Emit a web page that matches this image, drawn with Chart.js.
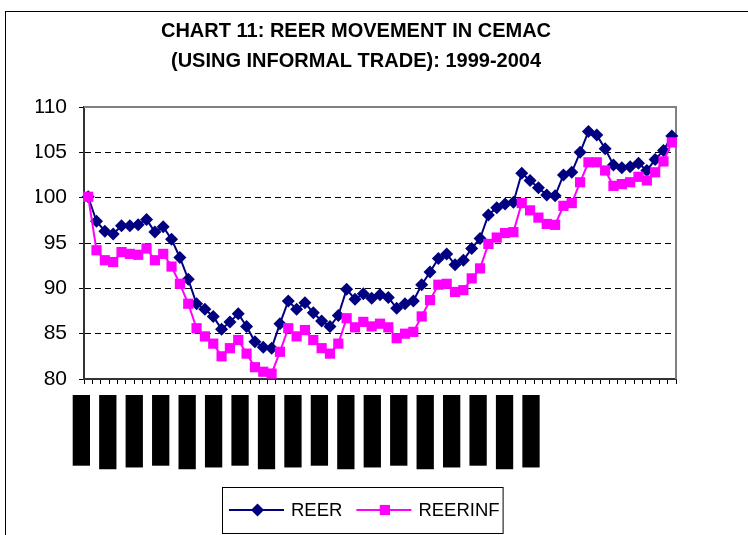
<!DOCTYPE html>
<html>
<head>
<meta charset="utf-8">
<script src="https://cdn.jsdelivr.net/npm/chart.js@4"></script>
<style>
  body { margin: 0; background: #fff; }
</style>
</head>
<body>
<canvas id="grafico" width="748" height="535"></canvas>
<script>
// Dados (mensal, jan/1999 - nov/2004)
const months = ["Jan", "Feb", "Mar", "Apr", "May", "Jun", "Jul", "Aug", "Sep", "Oct", "Nov", "Dec"];
const years = ["99", "00", "01", "02", "03", "04"];
const xLabels = [];
years.forEach((y) => months.forEach((m) => xLabels.push(m + "-" + y)));
xLabels.length = 71;

const reer = [
  100.1, 97.4, 96.3, 96.0, 96.9, 96.9, 97.0, 97.6, 96.2, 96.8, 95.4, 93.4,
  91.0, 88.3, 87.7, 86.9, 85.5, 86.3, 87.2, 85.8, 84.1, 83.5, 83.4, 86.1,
  88.6, 87.7, 88.4, 87.3, 86.4, 85.8, 87.0, 89.9, 88.8, 89.4, 88.9, 89.3,
  89.0, 87.8, 88.3, 88.6, 90.4, 91.8, 93.3, 93.8, 92.6, 93.1, 94.4, 95.5,
  98.1, 98.9, 99.3, 99.5, 102.7, 101.9, 101.1, 100.3, 100.2, 102.5, 102.8, 105.0,
  107.3, 106.9, 105.4, 103.6, 103.3, 103.4, 103.8, 103.0, 104.2, 105.2, 106.8,
];
const reerInf = [
  100.1, 94.2, 93.1, 92.9, 94.0, 93.8, 93.7, 94.4, 93.1, 93.8, 92.4, 90.5,
  88.3, 85.6, 84.7, 83.9, 82.5, 83.4, 84.3, 82.8, 81.3, 80.8, 80.6, 83.0,
  85.6, 84.7, 85.4, 84.3, 83.4, 82.8, 83.9, 86.7, 85.7, 86.3, 85.8, 86.1,
  85.7, 84.5, 85.0, 85.2, 86.9, 88.7, 90.4, 90.5, 89.6, 89.8, 91.1, 92.2,
  94.9, 95.6, 96.1, 96.2, 99.4, 98.6, 97.8, 97.1, 97.0, 99.1, 99.4, 101.7,
  103.9, 103.9, 103.0, 101.3, 101.5, 101.7, 102.3, 101.9, 102.8, 104.0, 106.1,
];
const seriesNames = ["REER", "REERINF"];
const titleLines = ["CHART 11: REER MOVEMENT IN CEMAC", "(USING INFORMAL TRADE): 1999-2004"];

// rótulos do eixo x (um a cada 4 meses) - saem como blocos pretos no original
const blockLabels = xLabels.filter((_, i) => i % 4 === 0);

const FONT = "'Liberation Sans', Arial, sans-serif";

const extras = {
  id: "extras",
  beforeDraw(chart) {
    const ctx = chart.ctx;
    ctx.save();
    ctx.fillStyle = "#fff";
    ctx.fillRect(0, 0, chart.width, chart.height);
    // moldura externa
    ctx.strokeStyle = "#000";
    ctx.lineWidth = 1;
    ctx.strokeRect(5.5, 11.5, chart.width + 10, chart.height + 10);
    ctx.restore();
  },
  beforeDatasetsDraw(chart) {
    const { ctx, chartArea } = chart;
    ctx.save();
    ctx.strokeStyle = "#808080";
    ctx.lineWidth = 2;
    ctx.beginPath();
    ctx.moveTo(chartArea.left, chartArea.top);
    ctx.lineTo(chartArea.right, chartArea.top);
    ctx.lineTo(chartArea.right, chartArea.bottom);
    ctx.stroke();
    ctx.restore();
  },
  afterDraw(chart) {
    const { ctx, chartArea } = chart;
    ctx.save();
    // blocos dos rótulos
    ctx.font = "bold 16px " + FONT;
    ctx.fillStyle = "#000";
    const top = chartArea.bottom + 16;
    blockLabels.forEach((lab, k) => {
      const cx = chartArea.left - 2.7 + k * 26.45;
      const h = ctx.measureText(lab).width + 20;
      ctx.fillRect(cx - 8.6, top, 17.3, h);
      ctx.save();
      ctx.translate(cx, top + 10);
      ctx.rotate(Math.PI / 2);
      ctx.textBaseline = "middle";
      ctx.fillText(lab, 0, 0);
      ctx.restore();
    });

    // legenda
    const ds = chart.data.datasets;
    ctx.font = "18.5px " + FONT;
    ctx.textBaseline = "middle";
    const lx = 222, ly = 487, lh = 46;
    const cy = ly + lh / 2;
    let x = lx + 7;
    const items = [];
    ds.slice().sort((a, b) => a.legendIndex - b.legendIndex).forEach((d) => {
      items.push({ d, x });
      x += 55 + 7 + ctx.measureText(d.label).width + 14;
    });
    ctx.strokeStyle = "#000";
    ctx.lineWidth = 1;
    ctx.strokeRect(lx + 0.5, ly + 0.5, x - 14 + 3 - lx, lh);
    items.forEach(({ d, x }) => {
      ctx.strokeStyle = d.borderColor;
      ctx.lineWidth = 2;
      ctx.beginPath();
      ctx.moveTo(x, cy);
      ctx.lineTo(x + 55, cy);
      ctx.stroke();
      ctx.fillStyle = d.borderColor;
      ctx.beginPath();
      const mx = x + 28.5;
      if (d.pointStyle === "rectRot") {
        const r = d.pointRadius;
        ctx.moveTo(mx - r, cy);
        ctx.lineTo(mx, cy - r);
        ctx.lineTo(mx + r, cy);
        ctx.lineTo(mx, cy + r);
        ctx.closePath();
      } else {
        const s = d.pointRadius * Math.SQRT1_2;
        ctx.rect(mx - s, cy - s, 2 * s, 2 * s);
      }
      ctx.fill();
      ctx.fillStyle = "#000";
      ctx.fillText(d.label, x + 62, cy + 1);
    });
    ctx.restore();
  },
};

new Chart(document.getElementById("grafico"), {
  type: "line",
  data: {
    labels: xLabels,
    datasets: [
      {
        label: seriesNames[0],
        legendIndex: 0,
        order: 1,
        data: reer,
        borderColor: "#000080",
        backgroundColor: "#000080",
        borderWidth: 2,
        pointStyle: "rectRot",
        pointRadius: 6.5,
        pointBorderWidth: 0,
        tension: 0,
        clip: false,
      },
      {
        label: seriesNames[1],
        legendIndex: 1,
        order: 0,
        data: reerInf,
        borderColor: "#ff00ff",
        backgroundColor: "#ff00ff",
        borderWidth: 2,
        pointStyle: "rect",
        pointRadius: 7.2,
        pointBorderWidth: 0,
        tension: 0,
        clip: false,
      },
    ],
  },
  options: {
    responsive: false,
    animation: false,
    events: [],
    layout: { padding: { left: 36, right: 72, top: 0, bottom: 151 } },
    plugins: {
      legend: { display: false },
      tooltip: { enabled: false },
      title: {
        display: true,
        text: titleLines,
        color: "#000",
        font: { family: FONT, size: 20, weight: "bold", lineHeight: 30 / 20 },
        padding: { top: 16, bottom: 31 },
      },
    },
    scales: {
      x: {
        offset: true,
        ticks: { display: false },
        grid: {
          offset: true,
          drawOnChartArea: false,
          tickLength: 5,
          tickColor: "#000",
        },
        border: { color: "#333", width: 2 },
        afterFit: (scale) => { scale.height = 5; },
      },
      y: {
        min: 80,
        max: 110,
        ticks: {
          stepSize: 5,
          color: "#000",
          padding: 12,
          font: { family: FONT, size: 21 },
        },
        grid: {
          color: (c) => (c.tick && c.tick.value > 80 && c.tick.value < 110 ? "#000" : "rgba(0,0,0,0)"),
          tickColor: "#000",
          tickLength: 5,
          tickBorderDash: [],
        },
        border: { color: "#333", width: 2, dash: [6, 4] },
        afterFit: (scale) => { scale.width = 48; },
      },
    },
  },
  plugins: [extras],
});
</script>
</body>
</html>
